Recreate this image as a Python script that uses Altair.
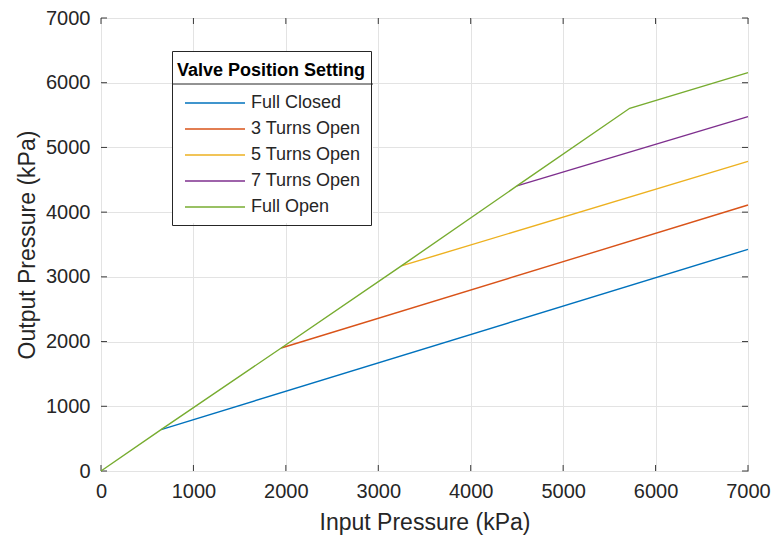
import altair as alt
import pandas as pd

# Output pressure vs. input pressure for each valve position setting (kPa)
series_names = ["Full Closed", "3 Turns Open", "5 Turns Open", "7 Turns Open", "Full Open"]
series_colors = ["#0072BD", "#D95319", "#EDB120", "#7E2F8E", "#77AC30"]

full_closed_in = [650, 7000]
full_closed_out = [640, 3425]

turns3_in = [1950, 7000]
turns3_out = [1900, 4110]

turns5_in = [3250, 7000]
turns5_out = [3170, 4785]

turns7_in = [4500, 7000]
turns7_out = [4405, 5475]

full_open_in = [0, 650, 1950, 3250, 4500, 5720, 7000]
full_open_out = [0, 640, 1900, 3170, 4405, 5605, 6155]

tick_values = [0, 1000, 2000, 3000, 4000, 5000, 6000, 7000]

rows = []
for name, xs, ys in [
    ("Full Closed", full_closed_in, full_closed_out),
    ("3 Turns Open", turns3_in, turns3_out),
    ("5 Turns Open", turns5_in, turns5_out),
    ("7 Turns Open", turns7_in, turns7_out),
    ("Full Open", full_open_in, full_open_out),
]:
    for i, (x, y) in enumerate(zip(xs, ys)):
        rows.append({"setting": name, "order": i, "inp": x, "out": y})
df = pd.DataFrame(rows)
ticks = pd.DataFrame({"v": tick_values})

W, H = 647, 453
FONT = "Liberation Sans"
TEXT = "#262626"
BOX = "#3a3a3a"

# legend box placement inside the plot area
LX, LY, LW, LH = 71, 33, 201, 172
TITLE_ROW = 33

xscale = alt.Scale(domain=[0, 7000], nice=False)
yscale = alt.Scale(domain=[0, 7000], nice=False)

legend = alt.Legend(
    title="Valve Position Setting",
    orient="none",
    legendX=LX,
    legendY=LY,
    strokeColor=TEXT,
    padding=5,
    cornerRadius=0,
    titleFont=FONT,
    titleFontSize=18,
    titleFontWeight="bold",
    titleColor="black",
    titleLimit=400,
    titleBaseline="line-top",
    titleLineHeight=30,
    titlePadding=16,
    labelFont=FONT,
    labelFontSize=18,
    labelColor=TEXT,
    labelOffset=5,
    labelLimit=300,
    symbolType="stroke",
    symbolSize=3600,
    symbolStrokeWidth=1.5,
    symbolOffset=7,
    clipHeight=26,
    rowPadding=0,
)

lines = alt.Chart(df).mark_line(strokeWidth=1.4).encode(
    x=alt.X("inp:Q", scale=xscale, title="Input Pressure (kPa)",
            axis=alt.Axis(values=tick_values, format="d", labelFlush=False)),
    y=alt.Y("out:Q", scale=yscale, title="Output Pressure (kPa)",
            axis=alt.Axis(values=tick_values, format="d", labelFlush=False)),
    color=alt.Color("setting:N", scale=alt.Scale(domain=series_names, range=series_colors),
                    sort=series_names, legend=legend),
    order="order:Q",
    detail="setting:N",
)

# inward tick marks on all four sides of the box
tick_len = 6
tb = alt.Chart(ticks).mark_rule(color=BOX, strokeWidth=1)
bottom_ticks = tb.encode(x=alt.X("v:Q", scale=xscale), y=alt.value(H), y2=alt.value(H - tick_len))
top_ticks = tb.encode(x=alt.X("v:Q", scale=xscale), y=alt.value(0), y2=alt.value(tick_len))
left_ticks = tb.encode(y=alt.Y("v:Q", scale=yscale), x=alt.value(0), x2=alt.value(tick_len))
right_ticks = tb.encode(y=alt.Y("v:Q", scale=yscale), x=alt.value(W), x2=alt.value(W - tick_len))

# white legend background (hides the grid) and divider under the legend title
one = pd.DataFrame({"d": [0]})
legend_bg = alt.Chart(one).mark_rect(color="white").encode(
    x=alt.value(LX), x2=alt.value(LX + LW), y=alt.value(LY), y2=alt.value(LY + LH)
)
divider = alt.Chart(one).mark_rule(color=TEXT, strokeWidth=1).encode(
    x=alt.value(LX), x2=alt.value(LX + LW), y=alt.value(LY + TITLE_ROW)
)

chart = alt.layer(
    legend_bg, bottom_ticks, top_ticks, left_ticks, right_ticks, lines, divider
).properties(
    width=W,
    height=H,
    autosize=alt.AutoSizeParams(type="none"),
    padding={"left": 101, "top": 18, "right": 24, "bottom": 71},
    background="white",
).configure_view(
    stroke=BOX, strokeWidth=1
).configure_axis(
    grid=True,
    gridColor="#E3E3E3",
    gridWidth=1,
    domain=False,
    ticks=False,
    labelFont=FONT,
    labelFontSize=20,
    labelColor=TEXT,
    labelPadding=10,
    titleFont=FONT,
    titleFontSize=23,
    titleFontWeight="normal",
    titleColor=TEXT,
).configure_axisX(
    titlePadding=10,
).configure_axisY(
    titlePadding=6,
    labelPadding=11,
)

chart.save("out.html", embed_options={"renderer": "svg", "actions": False})
